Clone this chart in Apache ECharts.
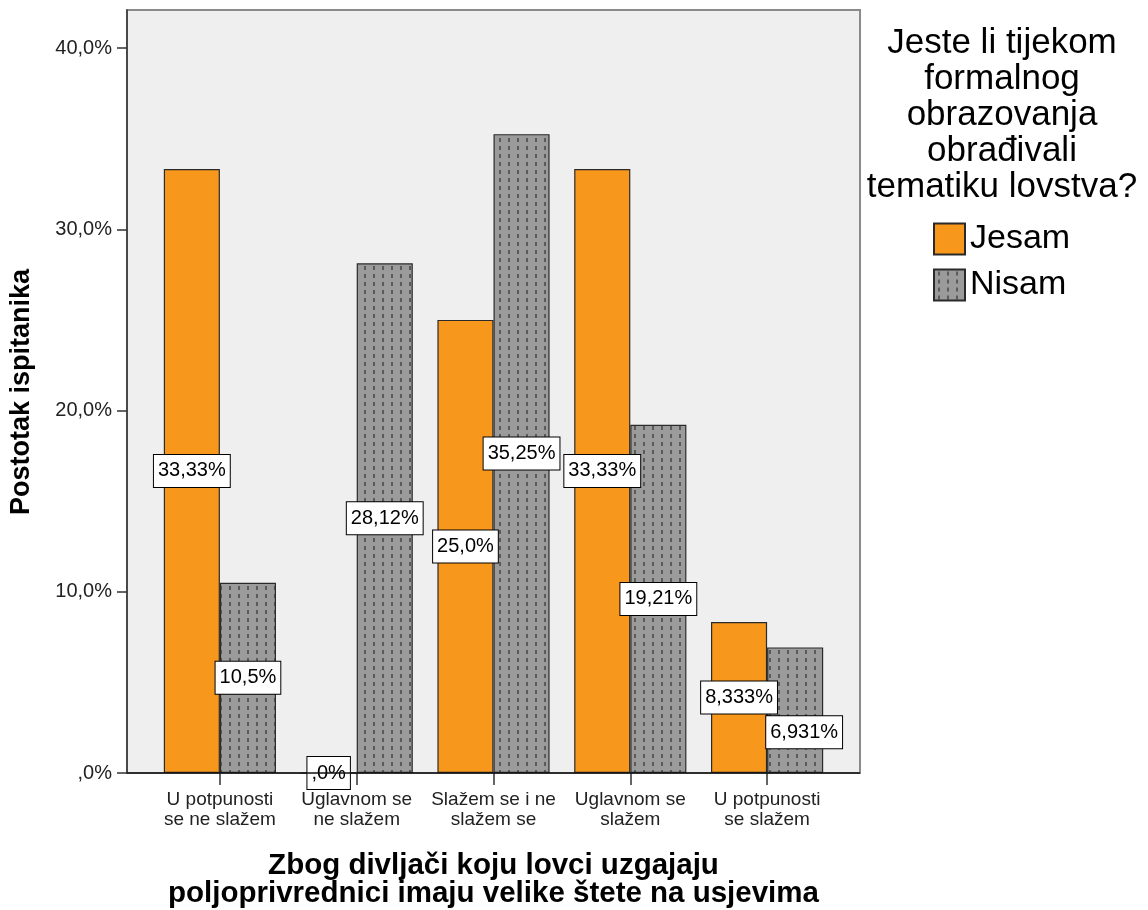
<!DOCTYPE html>
<html>
<head>
<meta charset="utf-8">
<script src="https://cdn.jsdelivr.net/npm/echarts@6/dist/echarts.min.js"></script>
<style>html,body{margin:0;padding:0;background:#fff}#c{width:1148px;height:910px}</style>
</head>
<body>
<div id="c"></div>
<script>
const categories = ['U potpunosti\nse ne slažem', 'Uglavnom se\nne slažem', 'Slažem se i ne\nslažem se', 'Uglavnom se\nslažem', 'U potpunosti\nse slažem'];
const seriesNames = ['Jesam', 'Nisam'];
const jesamValues = [33.33, 0, 25.0, 33.33, 8.333];
const nisamValues = [10.5, 28.12, 35.25, 19.21, 6.931];
const jesamLabels = ['33,33%', ',0%', '25,0%', '33,33%', '8,333%'];
const nisamLabels = ['10,5%', '28,12%', '35,25%', '19,21%', '6,931%'];
const yTicks = [0, 10, 20, 30, 40];
const yTickLabels = [',0%', '10,0%', '20,0%', '30,0%', '40,0%'];
const yAxisTitle = 'Postotak ispitanika';
const xAxisTitle = 'Zbog divljači koju lovci uzgajaju\npoljoprivrednici imaju velike štete na usjevima';
const legendTitle = 'Jeste li tijekom\nformalnog\nobrazovanja\nobrađivali\ntematiku lovstva?';

const FONT = '"Liberation Sans", Arial, sans-serif';

function makePattern() {
  const c = document.createElement('canvas');
  c.width = 9; c.height = 8;
  const g = c.getContext('2d');
  g.fillStyle = '#9b9b9b';
  g.fillRect(0, 0, 9, 8);
  g.fillStyle = '#5a5a5a';
  g.fillRect(4, 2, 2, 4);
  return c;
}
const pattern = { image: makePattern(), repeat: 'repeat' };

const labelStyle = {
  show: true,
  position: 'inside',
  fontFamily: FONT,
  fontSize: 20,
  lineHeight: 21,
  color: '#000',
  backgroundColor: '#fff',
  borderColor: '#000',
  borderWidth: 1,
  padding: [6, 4, 5, 4]
};

const plotL = 127, plotR = 860, plotT = 10, plotB = 773;

const chart = echarts.init(document.getElementById('c'));
chart.setOption({
  backgroundColor: '#fff',
  animation: false,
  grid: { left: 151.5, right: 1148 - 835.5, top: plotT, bottom: 910 - plotB },
  xAxis: {
    type: 'category',
    data: categories,
    boundaryGap: true,
    axisLine: { show: false },
    axisTick: { show: true, alignWithLabel: true, length: 12, lineStyle: { color: '#333', width: 1.5 } },
    axisLabel: { fontFamily: FONT, fontSize: 19, lineHeight: 20, color: '#222', margin: 17, interval: 0 },
    splitLine: { show: false }
  },
  yAxis: {
    type: 'value',
    min: 0,
    max: 42.1,
    interval: 10,
    offset: 24.5,
    axisLine: { show: true, lineStyle: { color: '#333', width: 1.5 } },
    axisTick: { show: true, length: 10, customValues: yTicks, lineStyle: { color: '#333', width: 1.5 } },
    axisLabel: {
      customValues: yTicks,
      fontFamily: FONT, fontSize: 20, color: '#222', margin: 15,
      formatter: v => { const i = yTicks.indexOf(Math.round(v * 1000) / 1000); return i >= 0 ? yTickLabels[i] : ''; }
    },
    splitLine: { show: false }
  },
  legend: {
    orient: 'vertical',
    left: 933,
    top: 222,
    padding: 0,
    itemWidth: 31,
    itemHeight: 31,
    itemGap: 12,
    icon: 'rect',
    textStyle: { fontFamily: FONT, fontSize: 34, color: '#000' },
    data: seriesNames
  },
  graphic: [
    { type: 'rect', z: -10, shape: { x: plotL, y: plotT, width: plotR - plotL, height: plotB - plotT },
      style: { fill: '#efefef', stroke: '#8a8a8a', lineWidth: 2 } },
    { type: 'line', z: 50, shape: { x1: plotL, y1: plotB, x2: plotR, y2: plotB },
      style: { stroke: '#111', lineWidth: 1.5 } },
    { type: 'text', x: 22, y: 392, rotation: Math.PI / 2,
      style: { text: yAxisTitle, fontFamily: FONT, fontSize: 27, fontWeight: 'bold', fill: '#000', align: 'center', verticalAlign: 'middle' } },
    { type: 'text', x: 493.5, y: 880,
      style: { text: xAxisTitle, fontFamily: FONT, fontSize: 29.5, lineHeight: 28, fontWeight: 'bold', fill: '#000', align: 'center', verticalAlign: 'middle' } },
    { type: 'text', x: 1002, y: 25,
      style: { text: legendTitle, fontFamily: FONT, fontSize: 35, lineHeight: 36, fill: '#000', align: 'center', verticalAlign: 'top' } }
  ],
  series: [
    {
      name: seriesNames[0],
      type: 'bar',
      data: jesamValues,
      barGap: '0%',
      barCategoryGap: '18%',
      itemStyle: { color: '#f7981d', borderColor: '#2a2a2a', borderWidth: 1.2 },
      label: Object.assign({}, labelStyle, { formatter: p => jesamLabels[p.dataIndex] }),
      z: 3
    },
    {
      name: seriesNames[1],
      type: 'bar',
      data: nisamValues.map((v, i) => i === 4 ? { value: v, label: { offset: [9, 22] } } : v),
      barGap: '0%',
      barCategoryGap: '18%',
      itemStyle: { color: pattern, borderColor: '#2a2a2a', borderWidth: 1.2 },
      label: Object.assign({}, labelStyle, { formatter: p => nisamLabels[p.dataIndex] }),
      z: 3
    }
  ]
});
</script>
</body>
</html>
